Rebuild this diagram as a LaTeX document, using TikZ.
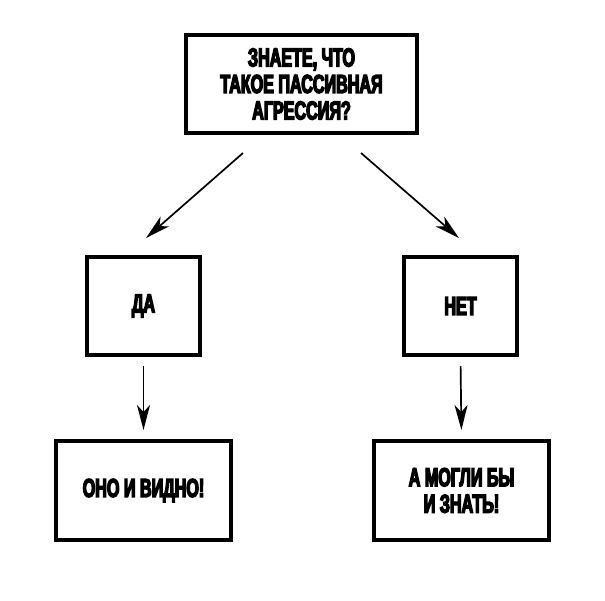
\documentclass[tikz,border=0pt]{standalone}
\usepackage{fontspec}
\newfontfamily\condfont{Liberation Sans Bold}[FakeStretch=0.62,FakeBold=5]
\usetikzlibrary{arrows.meta}
\tikzset{
  box/.style={draw=black, line width=4pt, fill=white, align=center,
    inner sep=0pt, font=\condfont\fontsize{26pt}{26.5pt}\selectfont},
  arr/.style={draw=black, line width=1.7pt,
    -{Stealth[length=25pt,width=13pt,inset=7pt]}}
}
\begin{document}
\begin{tikzpicture}[x=1pt,y=-1pt]
\useasboundingbox[fill=white] (0,0) rectangle (605,600);
\node[box, minimum width=231pt, minimum height=98pt] (q) at (301.5,84)
  {ЗНАЕТЕ, ЧТО\\ТАКОЕ ПАССИВНАЯ\\АГРЕССИЯ?};
\node[box, minimum width=113pt, minimum height=98pt] (da) at (143.5,306) {ДА};
\node[box, minimum width=113pt, minimum height=98pt] (net) at (460.5,306) {НЕТ};
\node[box, minimum width=175pt, minimum height=99pt] (ono) at (143.5,490.5) {ОНО И ВИДНО!};
\node[box, minimum width=175pt, minimum height=99pt] (mogli) at (461.5,490.5) {А МОГЛИ БЫ\\И ЗНАТЬ!};
\coordinate (ls) at (243,153);
\coordinate (le) at (146,238);
\coordinate (rs) at (361,153);
\coordinate (re) at (459,238);
\draw[arr] (ls) -- (le);
\draw[arr] (rs) -- (re);
\draw[arr, shorten <=9pt, shorten >=9pt] (da.south) -- (ono.north);
\draw[arr, shorten <=9pt, shorten >=9pt] (net.south) -- (mogli.north);
\end{tikzpicture}
\end{document}
